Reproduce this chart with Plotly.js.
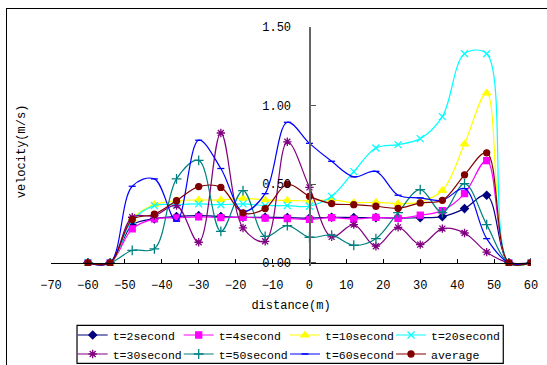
<!DOCTYPE html>
<html>
<head>
<meta charset="utf-8">
<script src="https://cdn.plot.ly/plotly-3.0.1.min.js"></script>
<style>
html,body{margin:0;padding:0;background:#fff;}
#chart{position:absolute;left:0;top:0;width:547px;height:365px;}
#frame{position:absolute;left:6px;top:8px;width:560px;height:380px;border:1.5px solid #000;pointer-events:none;}
</style>
</head>
<body>
<div id="chart"></div>
<div id="frame"></div>
<script>
var distance = [-60,-54,-48,-42,-36,-30,-24,-18,-12,-6,0,6,12,18,24,30,36,42,48,54,60];
var t2  = [0,0,0.24,0.28,0.295,0.30,0.295,0.29,0.29,0.288,0.285,0.29,0.288,0.288,0.285,0.287,0.294,0.345,0.43,0,0];
var t4  = [0,0,0.216,0.28,0.286,0.292,0.288,0.29,0.284,0.282,0.276,0.288,0.278,0.289,0.283,0.303,0.332,0.44,0.65,0,0];
var t10 = [0,0,0.28,0.37,0.395,0.40,0.40,0.41,0.40,0.397,0.395,0.40,0.383,0.385,0.377,0.388,0.46,0.756,1.08,0,0];
var t20 = [0,0,0.27,0.364,0.37,0.375,0.37,0.375,0.364,0.364,0.36,0.423,0.58,0.73,0.752,0.79,0.93,1.33,1.33,0,0];
var t30 = [0,0,0.29,0.30,0.364,0.131,0.826,0.222,0.137,0.77,0.48,0.165,0.243,0.106,0.226,0.116,0.218,0.19,0.068,0,0];
var t50 = [0,0,0.08,0.089,0.534,0.652,0.20,0.46,0.169,0.237,0.163,0.176,0.112,0.154,0.32,0.466,0.32,0.504,0.243,0,0];
var t60 = [0,0,0.487,0.534,0.265,0.78,0.60,0.328,0.44,0.894,0.76,0.646,0.547,0.582,0.43,0.413,0.398,0.472,0.154,0,0];
var avg = [0,0,0.275,0.309,0.396,0.485,0.48,0.318,0.345,0.50,0.423,0.377,0.37,0.36,0.347,0.381,0.398,0.56,0.70,0,0];

var seriesNames = ['t=2second','t=4second','t=10second','t=20second','t=30second','t=50second','t=60second','average'];
var seriesData = [t2,t4,t10,t20,t30,t50,t60,avg];
var colors = ['#000080','#FF00FF','#FFFF00','#00FFFF','#800080','#008080','#0000FF','#800000'];
var symbols = ['diamond','square','triangle-up','x-thin-open','asterisk-open','cross-thin-open','line-ew-open','circle'];
var sizes = [6,6,7,7,7,7,5,6];
var legendIds = ['legend','legend2','legend3','legend4','legend','legend2','legend3','legend4'];

var traces = seriesNames.map(function(n,i){
  return {
    x: distance, y: seriesData[i], name: n, type: 'scatter', mode: 'lines+markers',
    legend: legendIds[i],
    line: {color: colors[i], width: 1.2, shape: 'spline', smoothing: 1},
    marker: {symbol: symbols[i], size: sizes[i], color: colors[i], line: {color: colors[i], width: 1.3}}
  };
});

var font = 'Liberation Mono, DejaVu Sans Mono, monospace';
function legendAt(px){
  return {
    orientation: 'v', xref: 'container', yref: 'container',
    x: px/547, xanchor: 'left', y: 1 - 320.5/365, yanchor: 'top',
    borderwidth: 0, bgcolor: 'rgba(0,0,0,0)', traceorder: 'normal',
    font: {family: font, size: 11.5}
  };
}
var W = 479.7, H = 239.2;
var layout = {
  width: 547, height: 365,
  margin: {l: 51, r: 16.3, t: 27.3, b: 98.5, autoexpand: false},
  paper_bgcolor: '#fff', plot_bgcolor: '#fff',
  font: {family: font, size: 12, color: '#000'},
  showlegend: true,
  xaxis: {
    range: [-70, 60], tickvals: [-70,-60,-50,-40,-30,-20,-10,0,10,20,30,40,50,60],
    ticks: 'inside', ticklen: 4, tickcolor: '#000', showline: true, linecolor: '#000', linewidth: 1.2,
    showgrid: false, zeroline: false, anchor: 'free', position: 0.02/1.52,
    ticklabelstandoff: 11, automargin: false,
    title: {text: 'distance(m)', font: {family: font, size: 12}, standoff: 8}
  },
  yaxis: {
    range: [-0.02, 1.5], tickvals: [0,0.5,1,1.5], tickformat: '.2f',
    ticks: 'inside', ticklen: 5, tickcolor: '#555', showline: true, linecolor: '#666', linewidth: 1.6,
    showgrid: false, zeroline: false, anchor: 'free', position: 70/130, side: 'left',
    ticklabelstandoff: 16, automargin: false
  },
  legend: legendAt(72.7),
  legend2: legendAt(178.7),
  legend3: legendAt(285),
  legend4: legendAt(391),
  shapes: [{
    type: 'rect', xref: 'paper', yref: 'paper',
    x0: (77-51)/W, x1: (503-51)/W, y0: (266.5-326)/H, y1: (266.5-364)/H,
    line: {color: '#000', width: 1.2}, fillcolor: 'rgba(0,0,0,0)', layer: 'below'
  }],
  annotations: [{
    text: 'velocity(m/s)', xref: 'paper', yref: 'paper', x: (22-51)/W, y: 0.48,
    xanchor: 'center', yanchor: 'middle',
    showarrow: false, textangle: -90, font: {family: font, size: 12}
  }]
};

Plotly.newPlot('chart', traces, layout, {displayModeBar: false, staticPlot: true});
</script>
</body>
</html>
